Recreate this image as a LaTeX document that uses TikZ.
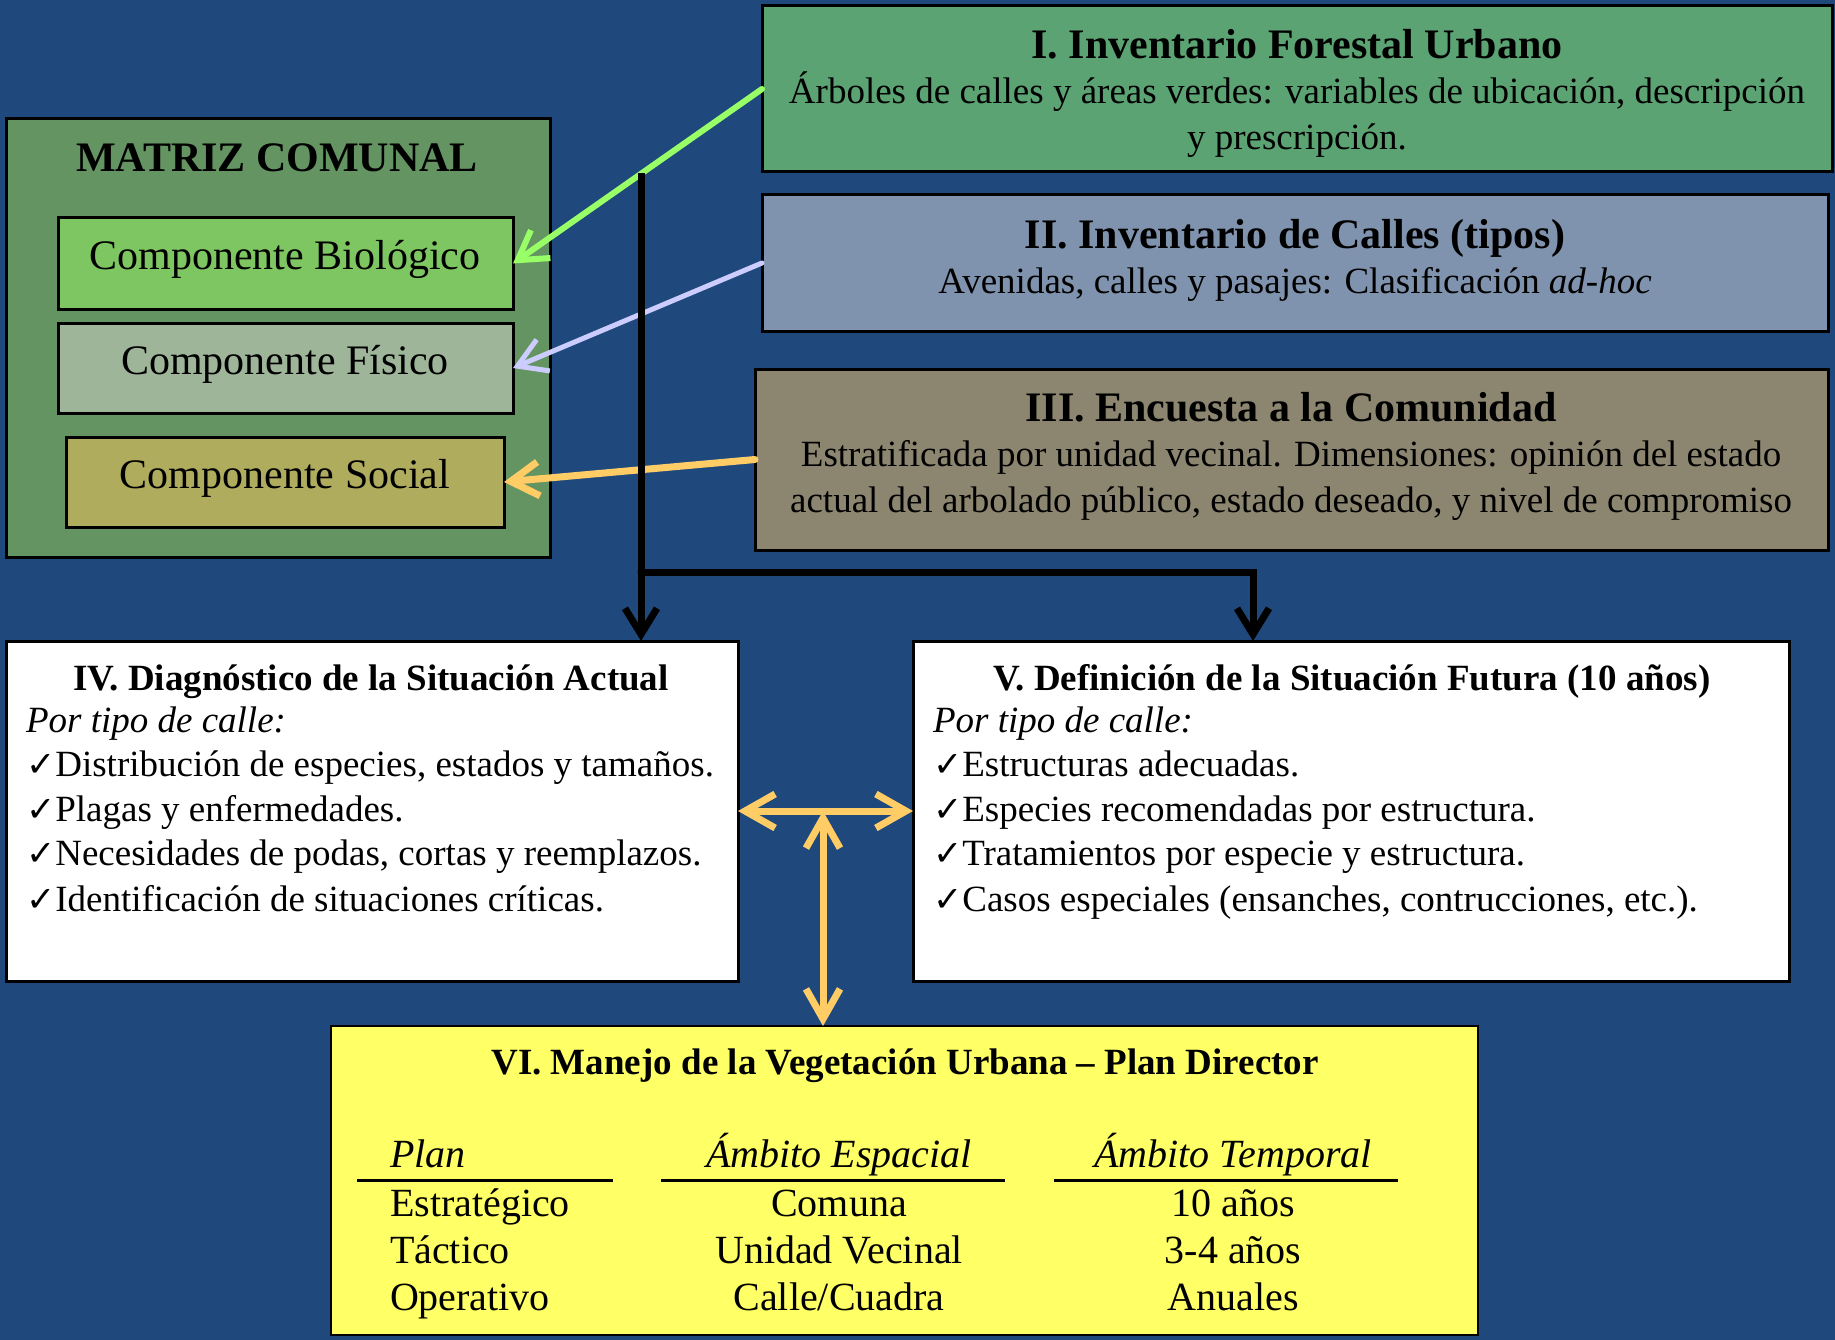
\documentclass[tikz,border=0pt]{standalone}
\usepackage{fontspec}
\setmainfont{Liberation Serif}
\newfontfamily\symf{DejaVu Sans}
\usetikzlibrary{arrows.meta}
\definecolor{bgblue}{RGB}{31,73,125}
\definecolor{cinvA}{RGB}{91,163,115}
\definecolor{cinvB}{RGB}{127,147,174}
\definecolor{cinvC}{RGB}{140,134,112}
\definecolor{cmat}{RGB}{101,148,99}
\definecolor{cbio}{RGB}{126,198,97}
\definecolor{cfis}{RGB}{159,181,154}
\definecolor{csoc}{RGB}{176,172,94}
\definecolor{cyel}{RGB}{255,255,102}
\definecolor{agreen}{RGB}{153,255,102}
\definecolor{alav}{RGB}{204,204,255}
\definecolor{aorange}{RGB}{255,204,102}
\newcommand\ckm{{\symf\fontsize{35}{35}\selectfont ✓}}
\begin{document}
\begin{tikzpicture}[x=1pt,y=-1pt,
  box/.style={draw=black, line width=3pt, anchor=north west, inner sep=0pt, outer sep=0pt},
  lbl/.style={inner sep=0pt, outer sep=0pt, anchor=mid, text=black, yshift=-10pt},
  lbll/.style={lbl, anchor=mid west},
  fbody/.style={font=\fontsize{37}{44}\selectfont},
  fbig/.style={font=\fontsize{42}{50}\selectfont\bfseries},
  fcomp/.style={font=\fontsize{42}{50}\selectfont},
  fhead/.style={font=\fontsize{37}{44}\selectfont\bfseries},
  ftab/.style={font=\fontsize{40}{48}\selectfont},
  colarrow/.style={-{Straight Barb[length=28pt,width=34pt]}, line width=6pt, line cap=round, line join=round},
  blkarrow/.style={-{Straight Barb[length=26pt,width=32pt]}, line width=7pt, line cap=round, line join=round, draw=black},
  orarrow/.style={{Straight Barb[length=30pt,width=34pt]}-{Straight Barb[length=30pt,width=34pt]}, line width=7pt, line cap=round, line join=round, draw=aorange},
  rule/.style={line width=3pt, draw=black}
]
\fill[bgblue] (0,0) rectangle (1835,1340);
\useasboundingbox (0,0) rectangle (1835,1340);

% top-right boxes
\node[box, fill=cinvA, minimum width=1070, minimum height=166] (inv1) at (762,6) {};
\node[box, fill=cinvB, minimum width=1066, minimum height=136] (inv2) at (762,195) {};
\node[box, fill=cinvC, minimum width=1073, minimum height=181] (inv3) at (755,369) {};

\node[lbl, fbig] (t1) at (1297,46) {I. Inventario Forestal Urbano};
\node[lbl, fbody] (t1a) at (1297,91) {Árboles de calles y áreas verdes: variables de ubicación, descripción};
\node[lbl, fbody] (t1b) at (1297,137) {y prescripción.};

\node[lbl, fbig] (t2) at (1295,236) {II. Inventario de Calles (tipos)};
\node[lbl, fbody] (t2a) at (1295,281) {Avenidas, calles y pasajes: Clasificación \textit{ad-hoc}};

\node[lbl, fbig] (t3) at (1291,409) {III. Encuesta a la Comunidad};
\node[lbl, fbody] (t3a) at (1291,454) {Estratificada por unidad vecinal. Dimensiones: opinión del estado};
\node[lbl, fbody] (t3b) at (1291,500) {actual del arbolado público, estado deseado, y nivel de compromiso};

% matriz comunal
\node[box, fill=cmat, minimum width=544, minimum height=438] (mat) at (6,119) {};
\node[lbl, fbig] (tm) at (277,159) {MATRIZ COMUNAL};
\node[box, fill=cbio, minimum width=455, minimum height=91] (bio) at (58,218) {};
\node[box, fill=cfis, minimum width=455, minimum height=90] (fis) at (58,323) {};
\node[box, fill=csoc, minimum width=438, minimum height=90] (soc) at (66,437) {};
\node[lbl, fcomp] (tbio) at (285,257) {Componente Biológico};
\node[lbl, fcomp] (tfis) at (285,362) {Componente Físico};
\node[lbl, fcomp] (tsoc) at (285,476) {Componente Social};

\draw[colarrow, draw=agreen] (inv1.west) -- (bio.east);
\draw[colarrow, draw=alav, line width=5pt] (inv2.west) -- (fis.east);
\draw[colarrow, draw=aorange, line width=7pt] (inv3.west) -- (soc.east);

% IV and V
\node[box, fill=white, minimum width=732, minimum height=340] (diag) at (6,641) {};
\node[box, fill=white, minimum width=876, minimum height=340] (fut) at (913,641) {};

\node[lbl, fhead] (t4) at (371,678) {IV. Diagnóstico de la Situación Actual};
\node[lbll, fbody] (t4a) at (26,720) {\textit{Por tipo de calle:}};
\node[lbll, fbody] (t4b) at (26,764) {\ckm Distribución de especies, estados y tamaños.};
\node[lbll, fbody] (t4c) at (26,809) {\ckm Plagas y enfermedades.};
\node[lbll, fbody] (t4d) at (26,853) {\ckm Necesidades de podas, cortas y reemplazos.};
\node[lbll, fbody] (t4e) at (26,899) {\ckm Identificación de situaciones críticas.};

\node[lbl, fhead] (t5) at (1352,678) {V. Definición de la Situación Futura (10 años)};
\node[lbll, fbody] (t5a) at (933,720) {\textit{Por tipo de calle:}};
\node[lbll, fbody] (t5b) at (933,764) {\ckm Estructuras adecuadas.};
\node[lbll, fbody] (t5c) at (933,809) {\ckm Especies recomendadas por estructura.};
\node[lbll, fbody] (t5d) at (933,853) {\ckm Tratamientos por especie y estructura.};
\node[lbll, fbody] (t5e) at (933,899) {\ckm Casos especiales (ensanches, contrucciones, etc.).};

% VI
\node[box, fill=cyel, line width=2.5pt, minimum width=1147, minimum height=309] (plan) at (331,1026) {};
\node[lbl, fhead] (t6) at (905,1062) {VI. Manejo de la Vegetación Urbana – Plan Director};
\node[lbll, ftab, font=\fontsize{40}{48}\selectfont\itshape] (h1) at (390,1155) {Plan};
\node[lbl, ftab, font=\fontsize{40}{48}\selectfont\itshape] (h2) at (839,1155) {Ámbito Espacial};
\node[lbl, ftab, font=\fontsize{40}{48}\selectfont\itshape] (h3) at (1233,1155) {Ámbito Temporal};
\draw[rule] (357,1180) -- (613,1180);
\draw[rule] (661,1180) -- (1005,1180);
\draw[rule] (1054,1180) -- (1398,1180);
\node[lbll, ftab] (r1a) at (390,1204) {Estratégico};
\node[lbl, ftab] (r1b) at (839,1204) {Comuna};
\node[lbl, ftab] (r1c) at (1233,1204) {10 años};
\node[lbll, ftab] (r2a) at (390,1251) {Táctico};
\node[lbl, ftab] (r2b) at (839,1251) {Unidad Vecinal};
\node[lbl, ftab] (r2c) at (1233,1251) {3-4 años};
\node[lbll, ftab] (r3a) at (390,1298) {Operativo};
\node[lbl, ftab] (r3b) at (839,1298) {Calle/Cuadra};
\node[lbl, ftab] (r3c) at (1233,1298) {Anuales};

% black connectors
\coordinate (src) at (641,173);
\coordinate (split) at (641,572);
\coordinate (rt) at (1253,572);
\draw[line width=7pt, draw=black] (src) -- (split);
\draw[blkarrow] (split) -- (split |- diag.north);
\draw[blkarrow, line join=miter] (split) -- (rt) -- (rt |- fut.north);

% orange connectors
\draw[orarrow] (diag.east) -- (fut.west);
\coordinate (junc) at (823,811);
\draw[orarrow] (junc) -- (junc |- plan.north);
\end{tikzpicture}
\end{document}
